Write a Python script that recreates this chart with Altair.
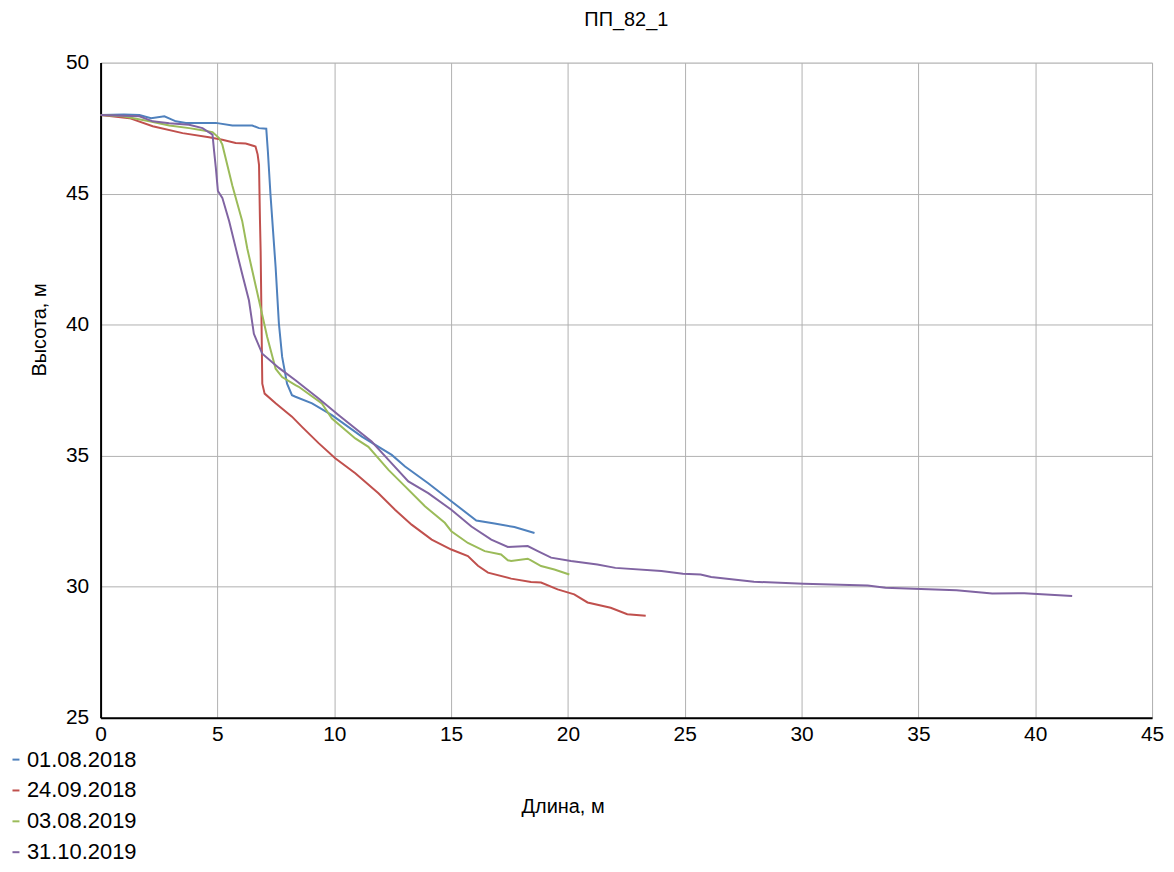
import altair as alt
import pandas as pd

series_names = ["01.08.2018", "24.09.2018", "03.08.2019", "31.10.2019"]
colors = ["#4F81BD", "#C0504D", "#9BBB59", "#8064A2"]

x_0108_2018 = [0.0, 1.0, 1.66, 2.16, 2.73, 3.22, 3.65, 4.93, 5.64, 6.49, 6.78, 7.09, 7.16, 7.27, 7.49, 7.63, 7.77, 7.98, 8.19, 8.34, 9.05, 9.9, 11.18, 12.46, 13.03, 14.02, 15.01, 16.08, 16.86, 17.71, 18.57]
y_0108_2018 = [48.0, 48.02, 48.0, 47.88, 47.95, 47.76, 47.7, 47.7, 47.6, 47.6, 47.5, 47.48, 46.6, 44.97, 42.2, 40.05, 38.77, 37.75, 37.31, 37.25, 37.0, 36.55, 35.73, 35.03, 34.59, 33.95, 33.26, 32.53, 32.41, 32.28, 32.05]

x_2409_2018 = [0.0, 1.24, 2.23, 3.51, 4.64, 5.21, 5.78, 6.21, 6.63, 6.72, 6.78, 6.82, 6.85, 6.92, 7.02, 7.49, 8.19, 8.62, 9.33, 10.04, 10.9, 11.89, 12.6, 13.31, 14.17, 15.01, 15.72, 16.15, 16.58, 17.57, 18.42, 18.85, 19.56, 20.27, 20.84, 21.83, 22.54, 23.33]
y_2409_2018 = [48.0, 47.88, 47.57, 47.31, 47.15, 47.06, 46.93, 46.91, 46.8, 46.5, 46.1, 44.0, 42.8, 37.75, 37.37, 37.0, 36.49, 36.1, 35.48, 34.9, 34.33, 33.57, 32.94, 32.37, 31.8, 31.42, 31.17, 30.8, 30.54, 30.31, 30.18, 30.16, 29.9, 29.71, 29.4, 29.2, 28.95, 28.89]

x_0308_2019 = [0.0, 0.95, 2.09, 2.94, 3.79, 4.22, 4.79, 5.07, 5.21, 5.64, 6.06, 6.28, 6.78, 7.13, 7.49, 7.77, 8.34, 8.48, 9.47, 9.9, 10.9, 11.46, 12.32, 13.03, 13.88, 14.73, 15.01, 15.72, 16.44, 17.14, 17.43, 17.57, 18.28, 18.42, 18.85, 19.42, 20.06]
y_0308_2019 = [48.0, 47.95, 47.76, 47.6, 47.5, 47.44, 47.35, 47.12, 46.87, 45.3, 43.96, 42.9, 40.92, 39.53, 38.32, 38.0, 37.69, 37.63, 36.99, 36.42, 35.66, 35.34, 34.46, 33.83, 33.07, 32.44, 32.12, 31.67, 31.36, 31.23, 31.01, 30.98, 31.07, 31.01, 30.79, 30.66, 30.47]

x_3110_2019 = [0.0, 1.66, 2.23, 2.94, 3.79, 4.36, 4.79, 4.86, 4.93, 5.02, 5.21, 5.5, 5.78, 6.06, 6.35, 6.56, 6.92, 7.63, 8.34, 9.33, 10.18, 11.6, 12.32, 13.17, 14.02, 15.01, 15.87, 16.72, 17.43, 18.28, 18.71, 19.28, 20.13, 21.26, 22.03, 24.0, 24.92, 25.68, 26.13, 27.96, 30.09, 32.83, 33.59, 36.63, 38.16, 39.53, 41.58]
y_3110_2019 = [48.0, 47.95, 47.76, 47.69, 47.63, 47.5, 47.25, 46.6, 46.0, 45.1, 44.84, 43.96, 42.94, 41.93, 40.92, 39.65, 38.89, 38.35, 37.88, 37.18, 36.55, 35.54, 34.84, 34.02, 33.57, 32.94, 32.3, 31.8, 31.52, 31.55, 31.36, 31.11, 30.98, 30.85, 30.72, 30.6, 30.5, 30.47, 30.37, 30.19, 30.11, 30.05, 29.96, 29.87, 29.74, 29.75, 29.65]

xs = [x_0108_2018, x_2409_2018, x_0308_2019, x_3110_2019]
ys = [y_0108_2018, y_2409_2018, y_0308_2019, y_3110_2019]

rows = []
for name, xv, yv in zip(series_names, xs, ys):
    for i, (a, b) in enumerate(zip(xv, yv)):
        rows.append({"series": name, "x": a, "y": b, "order": i})
df = pd.DataFrame(rows)

font = "Liberation Sans"

chart = alt.Chart(df).mark_line(strokeWidth=2, interpolate="linear").encode(
    x=alt.X("x:Q", scale=alt.Scale(domain=[0, 45], nice=False),
            axis=alt.Axis(values=list(range(0, 50, 5)), title="Длина, м",
                          titleX=464, titleY=89, titleAlign="center", titleBaseline="middle",
                          titleFontSize=20, titleFontWeight="normal", titleFont=font, titleColor="#000",
                          labelFontSize=21, labelFont=font, labelColor="#000", labelPadding=6,
                          labelFlush=False, labelOverlap=False,
                          ticks=False, domainColor="#000", domainWidth=2,
                          gridColor="#b0b0b0", gridWidth=1)),
    y=alt.Y("y:Q", scale=alt.Scale(domain=[25, 50], nice=False, zero=False),
            axis=alt.Axis(values=list(range(25, 55, 5)), title="Высота, м",
                          titleX=-61, titleY=268, titleAlign="center", titleBaseline="middle",
                          titleFontSize=20, titleFontWeight="normal", titleFont=font, titleColor="#000",
                          labelFontSize=21, labelFont=font, labelColor="#000", labelPadding=12,
                          labelFlush=False, labelOverlap=False,
                          ticks=False, domainColor="#000", domainWidth=2,
                          gridColor="#b0b0b0", gridWidth=1)),
    color=alt.Color("series:N", sort=series_names,
                    scale=alt.Scale(domain=series_names, range=colors),
                    legend=alt.Legend(title=None, orient="none", legendX=-96, legendY=689,
                                      symbolType="stroke", symbolSize=49, symbolStrokeWidth=2,
                                      labelFontSize=22, labelFont=font, labelColor="#000",
                                      labelOffset=0, rowPadding=9, symbolOpacity=1, padding=0)),
    order="order:Q",
).properties(
    width=1056, height=658,
    title=alt.TitleParams("ПП_82_1", fontSize=20, font=font, fontWeight="normal",
                          color="#000", anchor="middle", offset=22),
    autosize=alt.AutoSizeParams(type="none"),
    padding={"left": 93, "top": 53, "right": 14, "bottom": 145},
).configure_view(
    stroke="#7f7f7f", strokeWidth=1.5
).configure(background="white")

chart.save("out.html", embed_options={"renderer": "svg", "actions": False})
